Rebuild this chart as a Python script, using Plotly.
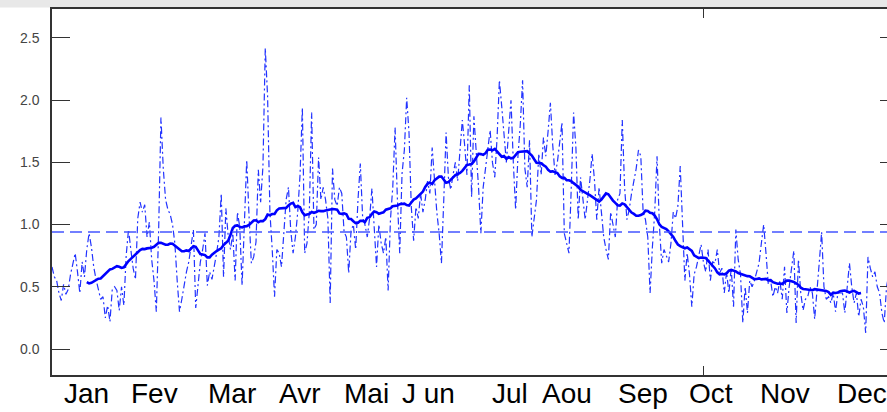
import numpy as np
import plotly.graph_objects as go

# daily values (day 1..365)
daily = [
    0.66, 0.58, 0.55, 0.45, 0.39, 0.52, 0.44, 0.48, 0.60, 0.70,
    0.77, 0.62, 0.45, 0.70, 0.58, 0.80, 0.93, 0.82, 0.66, 0.56,
    0.48, 0.40, 0.42, 0.25, 0.35, 0.22, 0.48, 0.50, 0.47, 0.31,
    0.50, 0.35, 0.75, 0.96, 0.80, 0.65, 0.56, 1.05, 1.18, 1.10,
    1.16, 0.90, 1.02, 0.72, 0.55, 0.30, 0.95, 1.86, 1.45, 1.20,
    1.12, 1.08, 1.00, 0.85, 0.55, 0.30, 0.40, 0.53, 0.62, 0.70,
    0.85, 0.96, 0.33, 0.55, 0.70, 0.80, 0.93, 0.51, 0.62, 0.56,
    0.66, 0.77, 0.90, 1.25, 0.58, 1.13, 0.91, 0.80, 0.93, 0.55,
    1.10, 0.98, 0.51, 1.00, 1.52, 1.07, 0.69, 0.74, 0.86, 1.44,
    1.18, 1.47, 2.42, 2.03, 1.10, 0.80, 0.42, 0.80, 0.77, 0.66,
    0.90, 1.20, 1.30, 0.95, 0.77, 0.90, 1.10, 1.40, 1.94, 0.77,
    0.85, 1.10, 1.90, 0.96, 1.00, 1.54, 1.20, 1.30, 1.20, 1.05,
    0.37, 1.45, 1.20, 1.15, 1.30, 1.25, 0.94, 0.90, 0.61, 0.95,
    1.00, 0.80, 1.20, 1.49, 1.06, 1.00, 0.90, 1.05, 1.29, 1.00,
    0.66, 1.00, 0.85, 0.77, 0.90, 0.47, 1.04, 1.30, 1.78, 1.20,
    0.77, 1.41, 1.60, 2.02, 1.74, 1.14, 0.87, 1.14, 1.05, 1.25,
    1.10, 1.20, 1.35, 1.25, 1.62, 1.36, 1.10, 0.93, 0.69, 1.20,
    1.74, 1.38, 1.28, 1.40, 1.50, 1.35, 1.60, 1.84, 1.64, 1.40,
    2.12, 1.22, 1.87, 1.62, 1.30, 0.93, 1.30, 1.45, 1.60, 1.76,
    1.50, 1.38, 1.70, 2.16, 1.95, 1.70, 1.50, 1.75, 2.00, 1.50,
    1.12, 1.55, 1.80, 2.16, 1.45, 1.30, 1.68, 0.90, 1.04, 1.20,
    1.57, 1.40, 1.70, 1.55, 1.75, 1.98, 1.64, 1.40, 1.50, 1.65,
    1.82, 0.93, 0.85, 0.77, 1.30, 1.90, 1.62, 1.04, 1.38, 1.20,
    1.04, 1.20, 1.35, 1.57, 1.36, 1.04, 1.30, 1.10, 0.90, 0.80,
    0.72, 1.10, 1.00, 0.90, 1.20, 1.25, 1.84, 1.30, 1.04, 1.12,
    1.25, 1.35, 1.45, 1.60, 1.55, 1.10, 1.04, 0.90, 0.45, 0.82,
    1.10, 1.55, 1.00, 0.69, 0.80, 0.75, 0.70, 0.85, 1.10, 1.05,
    1.15, 1.47, 1.04, 0.55, 0.77, 0.60, 0.34, 0.60, 0.66, 0.75,
    0.84, 0.70, 0.62, 0.80, 0.55, 0.70, 0.69, 0.80, 0.61, 0.65,
    0.45, 0.62, 0.45, 0.65, 0.34, 0.96, 0.72, 0.60, 0.21, 0.50,
    0.29, 0.55, 0.50, 0.55, 0.62, 0.69, 0.85, 1.00, 0.77, 0.52,
    0.55, 0.42, 0.50, 0.45, 0.55, 0.40, 0.66, 0.29, 0.50, 0.65,
    0.79, 0.21, 0.72, 0.45, 0.31, 0.40, 0.42, 0.50, 0.45, 0.24,
    0.45, 0.70, 0.94, 0.50, 0.40, 0.42, 0.37, 0.45, 0.30, 0.45,
    0.45, 0.45, 0.29, 0.50, 0.69, 0.50, 0.37, 0.45, 0.26, 0.40,
    0.34, 0.13, 0.74, 0.65, 0.58, 0.62, 0.50, 0.45, 0.29, 0.21,
    0.50, 0.60, 0.40, 0.55, 0.62,
]
days = list(range(1, len(daily) + 1))

window = 31
reference_level = 0.94

month_labels = ["Jan", "Fev", "Mar", "Avr", "Mai", "J un", "Jul", "Aou", "Sep", "Oct", "Nov", "Dec"]
month_pos = [15.7, 45.4, 78.5, 108, 136.5, 163.2, 198.6, 223.2, 255.8, 285.2, 317.2, 350.4]

y_ticks = [0.0, 0.5, 1.0, 1.5, 2.0, 2.5]
y_tick_text = ["0.0", "0.5", "1.0", "1.5", "2.0", "2.5"]
x_tick = [282]

arr = np.array(daily)
smooth = np.convolve(arr, np.ones(window) / window, mode="valid")
half = window // 2
smooth_days = days[half:len(days) - half]

fig = go.Figure()
fig.add_trace(go.Scatter(x=days, y=daily, mode="lines",
                         line=dict(color="#2233ff", width=1.2, dash="7px,3px,2px,3px"),
                         hoverinfo="skip"))
fig.add_trace(go.Scatter(x=smooth_days, y=smooth, mode="lines", yaxis="y2",
                         line=dict(color="#0000ff", width=2.6)))
fig.add_hline(y=reference_level, line=dict(color="#4455ff", width=1.4, dash="12px,6px"))

x_range = [1, 361.2]
y_range = [-0.209, 2.733]

fig.update_layout(
    width=887, height=412,
    margin=dict(l=52, r=0, t=9, b=37),
    paper_bgcolor="white", plot_bgcolor="white",
    showlegend=False,
    xaxis=dict(range=x_range, showline=True, linecolor="#333", linewidth=1.5, mirror="ticks",
               tickvals=x_tick, ticks="inside", ticklen=9, tickcolor="#333",
               showticklabels=False, showgrid=False, zeroline=False),
    yaxis=dict(range=y_range, showline=True, linecolor="#333", linewidth=1.5,
               tickvals=y_ticks, ticktext=y_tick_text, ticks="inside", ticklen=18,
               tickcolor="#333", tickwidth=1.2, ticklabelstandoff=8,
               tickfont=dict(family="Liberation Sans", size=14, color="#444"),
               showgrid=False, zeroline=False),
    yaxis2=dict(range=y_range, overlaying="y", side="right", tickvals=y_ticks,
                ticks="inside", ticklen=7, tickcolor="#333", tickwidth=1.2,
                showticklabels=False, showline=False, showgrid=False, zeroline=False),
)

# grey band above the frame
fig.add_shape(type="rect", xref="paper", yref="paper", x0=-0.1, x1=1.1,
              y0=1 + 1.5 / 366, y1=1 + 12 / 366, fillcolor="#e8e8e8", line_width=0, layer="below")

for name, pos in zip(month_labels, month_pos):
    fig.add_annotation(x=pos, y=-1 / 366, xref="x", yref="paper", text=name,
                       showarrow=False, yanchor="top", xanchor="center",
                       font=dict(family="Liberation Sans", size=28, color="black"))

fig.write_html("out.html", config={"displayModeBar": False},
               post_script="document.body.style.margin='0px';")
